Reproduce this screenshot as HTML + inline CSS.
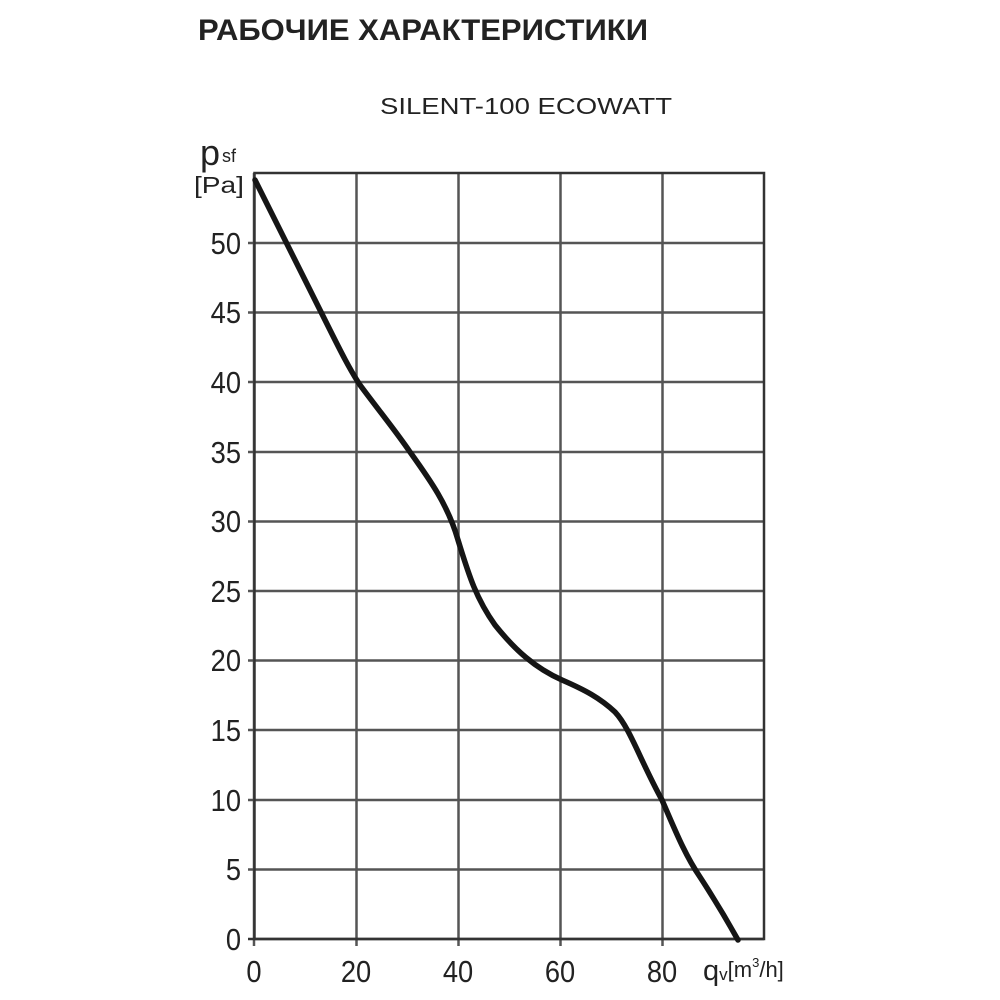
<!DOCTYPE html>
<html><head><meta charset="utf-8"><style>body{margin:0;background:#fff}svg{display:block}</style></head><body>
<svg width="1000" height="1000" viewBox="0 0 1000 1000" xmlns="http://www.w3.org/2000/svg" font-family="'Liberation Sans', sans-serif">
<text x="198" y="40" font-size="30" font-weight="bold" fill="#222" textLength="450" lengthAdjust="spacingAndGlyphs">РАБОЧИЕ ХАРАКТЕРИСТИКИ</text>
<text x="380" y="114" font-size="23" fill="#222" textLength="292" lengthAdjust="spacingAndGlyphs">SILENT-100 ECOWATT</text>
<g stroke="#555" stroke-width="2.5" fill="none">
<line x1="356.5" y1="173" x2="356.5" y2="946"/>
<line x1="458.5" y1="173" x2="458.5" y2="946"/>
<line x1="560.5" y1="173" x2="560.5" y2="946"/>
<line x1="662.5" y1="173" x2="662.5" y2="946"/>
<line x1="248" y1="243" x2="764" y2="243"/>
<line x1="248" y1="312.5" x2="764" y2="312.5"/>
<line x1="248" y1="382" x2="764" y2="382"/>
<line x1="248" y1="452" x2="764" y2="452"/>
<line x1="248" y1="521.5" x2="764" y2="521.5"/>
<line x1="248" y1="591" x2="764" y2="591"/>
<line x1="248" y1="660.5" x2="764" y2="660.5"/>
<line x1="248" y1="730" x2="764" y2="730"/>
<line x1="248" y1="800" x2="764" y2="800"/>
<line x1="248" y1="869.5" x2="764" y2="869.5"/>
<line x1="254" y1="946" x2="254" y2="173"/>
</g>
<rect x="254.5" y="173" width="509.5" height="766" fill="none" stroke="#333" stroke-width="2.5"/>
<line x1="248" y1="939" x2="764" y2="939" stroke="#333" stroke-width="2.5"/>
<path d="M255,180 C275,220 305,280 330,330 C340,350 350,370 360,385 C380,412 395,430 410,452 C430,480 448,505 458,540 C468,572 475,597 495,625 C515,650 535,668 562,680 C585,690 600,698 615,712 C630,728 640,760 662,800 C675,830 685,855 700,877 C715,900 728,922 738,940" fill="none" stroke="#151515" stroke-width="5.5" stroke-linecap="round"/>
<g font-size="31" fill="#222" text-anchor="end" transform="translate(241,0) scale(0.88,1)">
<text x="0" y="254">50</text><text x="0" y="323">45</text><text x="0" y="393">40</text>
<text x="0" y="463">35</text><text x="0" y="532">30</text><text x="0" y="602">25</text>
<text x="0" y="671">20</text><text x="0" y="741">15</text><text x="0" y="811">10</text>
<text x="0" y="880">5</text><text x="0" y="950">0</text>
</g>
<g font-size="31" fill="#222" text-anchor="middle">
<text transform="translate(254,982) scale(0.88,1)">0</text>
<text transform="translate(356,982) scale(0.88,1)">20</text>
<text transform="translate(458,982) scale(0.88,1)">40</text>
<text transform="translate(560,982) scale(0.88,1)">60</text>
<text transform="translate(662,982) scale(0.88,1)">80</text>
</g>
<text x="703" y="980" font-size="29" fill="#222">q<tspan font-size="17">v</tspan><tspan font-size="22" dy="-3">[m</tspan><tspan font-size="13" dy="-10">3</tspan><tspan font-size="22" dy="10">/h]</tspan></text>
<text x="200" y="165" font-size="36" fill="#222">p</text>
<text x="222" y="162" font-size="18" fill="#222">sf</text>
<text x="194" y="193" font-size="23" fill="#222" textLength="50" lengthAdjust="spacingAndGlyphs">[Pa]</text>
</svg>
</body></html>
